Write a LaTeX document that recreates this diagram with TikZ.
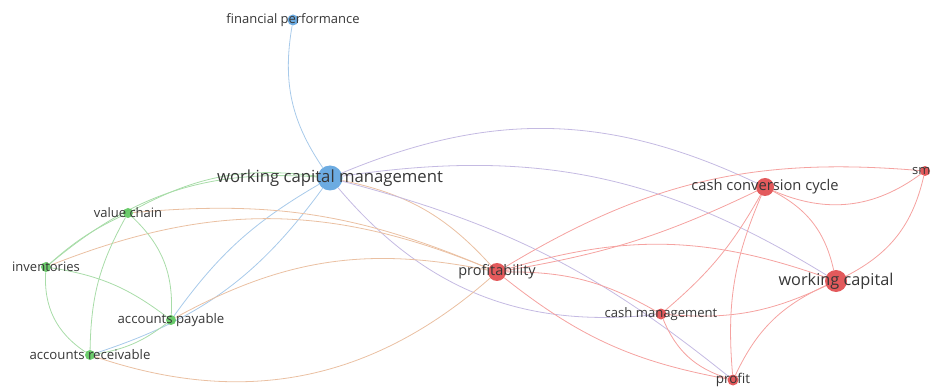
\documentclass[tikz,border=0pt]{standalone}
\usepackage{fontspec}
\setmainfont{Open Sans}
\usetikzlibrary{backgrounds}

\definecolor{vosblue}{RGB}{92,162,222}
\definecolor{vosred}{RGB}{224,72,74}
\definecolor{vosgreen}{RGB}{92,198,92}
\definecolor{lblue}{RGB}{168,202,234}
\definecolor{lred}{RGB}{245,162,160}
\definecolor{lgreen}{RGB}{168,220,168}
\definecolor{lpurple}{RGB}{196,186,226}
\definecolor{lorange}{RGB}{234,192,162}
\definecolor{labelgray}{RGB}{55,55,55}

\tikzset{
  kw/.style={circle, inner sep=0pt, draw=none, fill opacity=0.9},
  bluekw/.style={kw, fill=vosblue},
  redkw/.style={kw, fill=vosred},
  greenkw/.style={kw, fill=vosgreen},
  lbl/.style={text=labelgray, inner sep=0pt},
  link/.style={line width=0.8pt},
  bluelink/.style={link, draw=lblue},
  redlink/.style={link, draw=lred},
  greenlink/.style={link, draw=lgreen},
  purplelink/.style={link, draw=lpurple},
  orangelink/.style={link, draw=lorange},
}

\begin{document}
\begin{tikzpicture}[x=1pt, y=1pt]

\useasboundingbox (0,0) rectangle (931,391);
\clip (0,0) rectangle (931,391);

% keywords
\node[bluekw, minimum size=11pt] (fp) at (293,371) {};
\node[bluekw, minimum size=25pt] (wcm) at (330,213) {};
\node[greenkw, minimum size=10pt] (vc) at (128,178) {};
\node[greenkw, minimum size=10pt] (inv) at (46,124) {};
\node[greenkw, minimum size=10pt] (ap) at (171,71) {};
\node[greenkw, minimum size=10pt] (ar) at (90,36) {};
\node[redkw, minimum size=18pt] (prof) at (497,119) {};
\node[redkw, minimum size=18pt] (ccc) at (765,204) {};
\node[redkw, minimum size=10pt] (sme) at (925,220) {};
\node[redkw, minimum size=22pt] (wc) at (836,110) {};
\node[redkw, minimum size=11pt] (cm) at (661,77) {};
\node[redkw, minimum size=11pt] (pt) at (733,11) {};

% links
\begin{scope}[on background layer]
\draw[bluelink] (fp) to[bend right=22] (wcm);
\draw[greenlink] (wcm) to[bend right=18] (vc);
\draw[greenlink] (wcm) to[bend right=22] (inv);
\draw[bluelink] (wcm) to[bend right=12] (ap);
\draw[bluelink] (wcm) to[bend left=18] (ar);
\draw[orangelink] (wcm) to[bend left=18] (prof);
\draw[purplelink] (wcm) to[bend right=28] (cm);
\draw[purplelink] (wcm) to[bend left=24] (ccc);
\draw[purplelink] (wcm) to[bend left=20] (wc);
\draw[purplelink] (wcm) to[bend left=12] (pt);

\draw[redlink] (prof) to[bend right=8] (ccc);
\draw[redlink] (prof) to[bend left=18] (sme);
\draw[redlink] (prof) to[bend left=18] (wc);
\draw[redlink] (prof) to[bend left=15] (cm);
\draw[redlink] (prof) to[bend right=14] (pt);
\draw[orangelink] (prof) to[bend left=30] (ar);
\draw[orangelink] (prof) to[bend right=20] (ap);
\draw[orangelink] (prof) to[bend right=14] (vc);
\draw[orangelink] (prof) to[bend right=22] (inv);

\draw[redlink] (ccc) to[bend right=30] (sme);
\draw[redlink] (ccc) to[bend left=25] (wc);
\draw[redlink] (ccc) to[bend left=10] (cm);
\draw[redlink] (ccc) to[bend right=14] (pt);
\draw[redlink] (sme) to[bend left=25] (wc);
\draw[redlink] (wc) to[bend left=15] (cm);
\draw[redlink] (wc) to[bend right=20] (pt);
\draw[redlink] (cm) to[bend right=25] (pt);

\draw[greenlink] (vc) to[bend right=8] (inv);
\draw[greenlink] (vc) to[bend left=25] (ap);
\draw[greenlink] (vc) to[bend right=14] (ar);
\draw[greenlink] (inv) to[bend left=14] (ap);
\draw[greenlink] (inv) to[bend right=30] (ar);
\draw[greenlink] (ap) to[bend left=14] (ar);
\end{scope}

% labels
\node[lbl, font=\fontsize{13}{15}\selectfont] (fp-l) at (fp) {financial performance};
\node[lbl, font=\fontsize{16.7}{19}\selectfont] (wcm-l) at (wcm) {working capital management};
\node[lbl, font=\fontsize{13}{15}\selectfont] (vc-l) at (vc) {value chain};
\node[lbl, font=\fontsize{13}{15}\selectfont] (inv-l) at (inv) {inventories};
\node[lbl, font=\fontsize{13.2}{15}\selectfont] (ap-l) at (ap) {accounts payable};
\node[lbl, font=\fontsize{13.2}{15}\selectfont] (ar-l) at (ar) {accounts receivable};
\node[lbl, font=\fontsize{14.5}{16}\selectfont] (prof-l) at (prof) {profitability};
\node[lbl, font=\fontsize{14.7}{17}\selectfont] (ccc-l) at (ccc) {cash conversion cycle};
\node[lbl, font=\fontsize{13}{15}\selectfont] (sme-l) at (sme) {sme};
\node[lbl, font=\fontsize{16.3}{19}\selectfont] (wc-l) at (wc) {working capital};
\node[lbl, font=\fontsize{13.1}{15}\selectfont] (cm-l) at (cm) {cash management};
\node[lbl, font=\fontsize{13.5}{15}\selectfont] (pt-l) at (pt) {profit};

\end{tikzpicture}
\end{document}
